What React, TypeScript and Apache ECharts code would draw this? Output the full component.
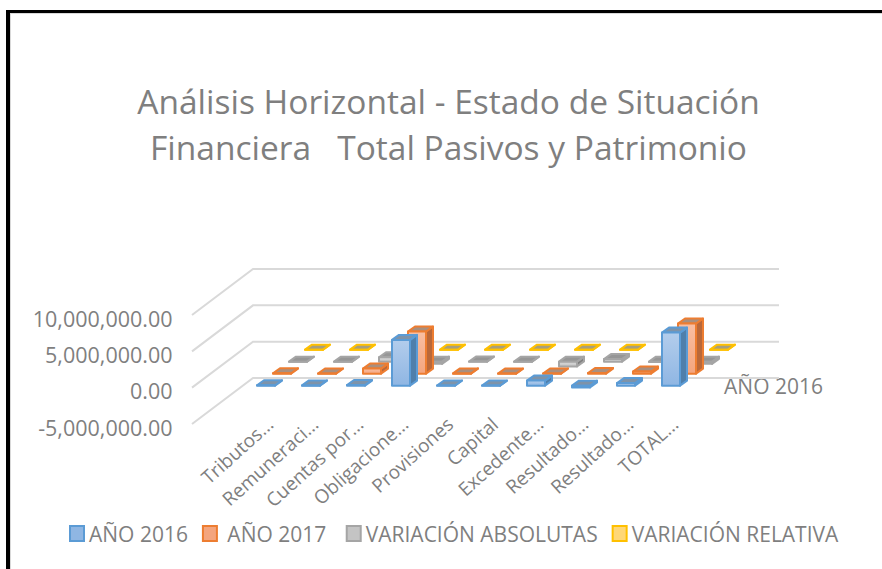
import React, { useEffect, useRef } from "react";
import * as echarts from "echarts";

const categories = ["Tributos…", "Remuneraci…", "Cuentas por…", "Obligacione…", "Provisiones", "Capital", "Excedente…", "Resultado…", "Resultado…", "TOTAL…"];
const anio2016 = [60000, 40000, 90000, 6300000, 30000, 10000, 700000, -250000, 350000, 7300000];
const anio2017 = [50000, 30000, 700000, 5800000, 40000, 10000, 30000, 100000, 300000, 6900000];
const variacionAbs = [-10000, -10000, 610000, -300000, 10000, 0, -650000, 350000, -50000, -300000];
const variacionRel = [0.1, 0.2, 0.3, 0.1, 0.2, 0, 0.1, 0.2, 0.1, 0.1];
const ticks = [-5000000, 0, 5000000, 10000000];
const FONT = "'Open Sans', 'Noto Sans', sans-serif";
const GREY = "#7f7f7f";
const LABEL_SHIFT = 4;

const palette = [
  { border: "#5B9BD5", top: "#7E93A9", side: "#4F7FAB", a: "#B3CDEC", b: "#8FB6E3", row: 0 },
  { border: "#ED7D31", top: "#A98F7E", side: "#B9683A", a: "#F9BFA3", b: "#F4A57E", row: 1 },
  { border: "#A5A5A5", top: "#969696", side: "#808080", a: "#DADADA", b: "#C4C4C4", row: 2 },
  { border: "#FFC000", top: "#A79F7D", side: "#BF9A20", a: "#FFE39C", b: "#FFD777", row: 3 },
];

const barRender = (style: any) => (params: any, api: any) => {
  const cat = api.value(0);
  const val = api.value(1);
  const [cx, yv] = api.coord([cat, val]);
  const y0 = api.coord([cat, 0])[1];
  const W = 18, DX = 7, DY = -5;
  const x = cx - LABEL_SHIFT + style.row * 16 - W / 2;
  const shift = -2 - style.row * 12;
  const top = Math.min(yv, y0) + shift;
  const bot = Math.max(yv, y0) + shift;
  const sw = { stroke: style.border, lineWidth: 2, lineJoin: "round" };
  const front = new echarts.graphic.LinearGradient(0, 0, 0, 1, [
    { offset: 0, color: style.a },
    { offset: 1, color: style.b },
  ]);
  return {
    type: "group",
    children: [
      { type: "polygon", shape: { points: [[x + W, top], [x + W + DX, top + DY], [x + W + DX, bot + DY], [x + W, bot]] }, style: { fill: style.side, ...sw } },
      { type: "polygon", shape: { points: [[x, top], [x + DX, top + DY], [x + W + DX, top + DY], [x + W, top]] }, style: { fill: style.top, ...sw } },
      { type: "polygon", shape: { points: [[x, top], [x + W, top], [x + W, bot], [x, bot]] }, style: { fill: front, ...sw } },
    ],
  };
};

const wallRender = (params: any, api: any) => {
  const y = api.coord([0, api.value(1)])[1];
  return {
    type: "polyline",
    shape: { points: [[192, y], [253, y - 46], [779, y - 46]] },
    style: { stroke: "#D9D9D9", lineWidth: 2, fill: "none" },
  };
};

const fmt = (v: number) => v.toLocaleString("en-US", { minimumFractionDigits: 2, maximumFractionDigits: 2 });

export default function App() {
  const ref = useRef<HTMLDivElement>(null);
  useEffect(() => {
    const chart = echarts.init(ref.current!, null, { renderer: "svg" });
    const mk = (name: string, values: number[], p: any) => ({
      type: "custom",
      name,
      coordinateSystem: "cartesian2d",
      renderItem: barRender(p),
      encode: { x: 0, y: 1 },
      itemStyle: { color: p.b, borderColor: p.border, borderWidth: 2 },
      data: values.map((v, i) => [i, v]),
    });
    chart.setOption({
      animation: false,
      backgroundColor: "#fff",
      title: {
        text: "Análisis Horizontal - Estado de Situación\nFinanciera   Total Pasivos y Patrimonio",
        left: 443.5,
        top: 73,
        textAlign: "center",
        textStyle: { fontFamily: FONT, fontSize: 33.5, fontWeight: "normal", color: GREY, lineHeight: 46 },
      },
      grid: { left: 243.5 + LABEL_SHIFT, width: 450, top: 315, height: 109 },
      xAxis: {
        type: "category",
        data: categories,
        axisLine: { show: false },
        axisTick: { show: false },
        axisLabel: { rotate: 42, interval: 0, margin: -3, fontFamily: FONT, fontSize: 19, color: GREY },
      },
      yAxis: {
        type: "value",
        min: -5000000,
        max: 10000000,
        interval: 5000000,
        axisLine: { show: false },
        axisTick: { show: false },
        splitLine: { show: false },
        axisLabel: { margin: 75, verticalAlign: "top", lineHeight: 6, fontFamily: FONT, fontSize: 21.5, color: GREY, formatter: fmt },
      },
      legend: {
        left: 64,
        top: 518,
        itemWidth: 14,
        itemHeight: 15,
        itemGap: 14,
        icon: "rect",
        data: ["AÑO 2016", "AÑO 2017", "VARIACIÓN ABSOLUTAS", "VARIACIÓN RELATIVA"],
        formatter: (n: string) => (n === "AÑO 2017" ? " " + n + " " : n),
        textStyle: { fontFamily: FONT, fontSize: 21, color: GREY },
      },
      graphic: [
        { type: "rect", shape: { x: 10, y: 13, width: 872, height: 1 }, style: { fill: "#D9D9D9" } },
        { type: "rect", shape: { x: 10, y: 13, width: 1, height: 556 }, style: { fill: "#D9D9D9" } },
        { type: "rect", shape: { x: 6, y: 10, width: 4, height: 559 }, style: { fill: "#000" } },
        { type: "rect", shape: { x: 6, y: 10, width: 876, height: 3 }, style: { fill: "#000" } },
        { type: "text", x: 773.5, y: 386, style: { text: "AÑO 2016", fontFamily: FONT, fontSize: 21, fill: GREY, align: "center", verticalAlign: "middle" } },
      ],
      series: [
        { type: "custom", name: "walls", coordinateSystem: "cartesian2d", renderItem: wallRender, encode: { x: 0, y: 1 }, silent: true, data: ticks.map((t) => [0, t]) },
        mk("VARIACIÓN RELATIVA", variacionRel, palette[3]),
        mk("VARIACIÓN ABSOLUTAS", variacionAbs, palette[2]),
        mk("AÑO 2017", anio2017, palette[1]),
        mk("AÑO 2016", anio2016, palette[0]),
      ],
    });
    return () => chart.dispose();
  }, []);
  return <div ref={ref} style={{ position: "fixed", left: 0, top: 0, width: 882, height: 569 }} />;
}
